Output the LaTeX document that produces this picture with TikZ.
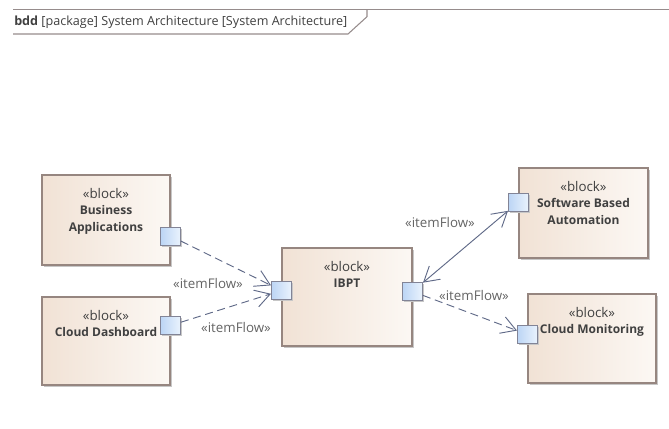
\documentclass[tikz,border=0pt]{standalone}
\usepackage{fontspec}
\setmainfont{Open Sans}
\usetikzlibrary{arrows.meta,positioning,calc,shadows}
\definecolor{clrFrame}{RGB}{150,140,140}
\definecolor{clrTxt}{RGB}{64,64,64}
\definecolor{clrLbl}{RGB}{100,100,100}
\definecolor{clrBlkA}{RGB}{241,226,213}
\definecolor{clrBlkB}{RGB}{252,248,244}
\definecolor{clrBlkD}{RGB}{150,134,128}
\definecolor{clrPortA}{RGB}{188,213,245}
\definecolor{clrPortB}{RGB}{234,243,253}
\definecolor{clrPortD}{RGB}{130,132,150}
\definecolor{clrFlow}{RGB}{95,105,135}
\newcommand{\blk}{{\fontsize{10}{12.4}\selectfont\mdseries «block»}}
\tikzset{
  block/.style={rectangle,draw=clrBlkD,left color=clrBlkA,right color=clrBlkB,
    line width=0.8pt,inner sep=0pt,
    general shadow={fill=black!22,shadow xshift=1.6pt,shadow yshift=-1.6pt}},
  blocktitle/.style={align=center,font=\fontsize{9}{12.4}\selectfont\bfseries,
    text=clrTxt,inner sep=0pt},
  port/.style={rectangle,draw=clrPortD,left color=clrPortA,right color=clrPortB,
    line width=0.7pt,minimum width=15pt,minimum height=13.5pt,inner sep=0pt,
    general shadow={fill=black!22,shadow xshift=1.2pt,shadow yshift=-1.2pt}},
  flowlbl/.style={font=\fontsize{10}{12}\selectfont,text=clrLbl,inner sep=0pt},
  flow/.style={draw=clrFlow,line width=0.7pt},
  barb/.tip={Straight Barb[length=11pt,width=13pt,line width=0.7pt]},
  itemflow/.style={flow,dash pattern=on 6pt off 3.5pt,-barb}
}

\begin{document}
\begin{tikzpicture}[x=0.75pt,y=-0.75pt]
  \useasboundingbox (0,0) rectangle (669,429);

  % diagram frame header
  \draw[clrFrame,line width=0.8pt] (13,9.3) -- (669,9.3);
  \draw[clrFrame,line width=0.8pt] (13,34) -- (348,34) -- (367,16.7) -- (367,9.3);
  \node[anchor=west,inner sep=0pt,text=clrTxt,font=\fontsize{9.45}{11}\selectfont]
    (hdr) at (14,22) {\textbf{bdd} [package] System Architecture [System Architecture]};

  % blocks
  \node[block,minimum width=96pt,minimum height=67.5pt] (ba) at (106,220) {};
  \node[block,minimum width=96pt,minimum height=66pt] (cd) at (106,341) {};
  \node[block,minimum width=97.5pt,minimum height=73.5pt] (ibpt) at (347,297) {};
  \node[block,minimum width=96.75pt,minimum height=67.5pt] (sba) at (583.5,213) {};
  \node[block,minimum width=96pt,minimum height=66.75pt] (cm) at (592,338.5) {};

  \node[blocktitle,below=10pt of ba.north] (baT)
    {\blk\\Business\\Applications};
  \node[blocktitle,below=10pt of cd.north] (cdT)
    {\blk\\Cloud Dashboard};
  \node[blocktitle,below=10pt of ibpt.north] (ibptT)
    {\blk\\IBPT};
  \node[blocktitle,below=10pt of sba.north] (sbaT)
    {\blk\\Software Based\\Automation};
  \node[blocktitle,below=10pt of cm.north] (cmT)
    {\blk\\Cloud Monitoring};

  % ports
  \node[port] (baP) at ($(ba.east)+(0,16)$) {};
  \node[port] (cdP) at ($(cd.east)+(0,-15.5)$) {};
  \node[port] (ibL) at ($(ibpt.west)+(0,-6.5)$) {};
  \node[port] (ibR) at ($(ibpt.east)+(0,-5.5)$) {};
  \node[port] (sbaP) at ($(sba.west)+(0,-11)$) {};
  \node[port] (cmP) at ($(cm.west)+(0,-4)$) {};

  % item flows
  \draw[itemflow] (baP) -- (ibL);
  \draw[itemflow] (cdP) -- (ibL);
  \draw[flow,barb-barb] (ibR) -- (sbaP);
  \draw[itemflow] (ibR) -- (cmP);

  \node[flowlbl] (lblBA) at (208,283) {«itemFlow»};
  \node[flowlbl] (lblCD) at (236,327) {«itemFlow»};
  \node[flowlbl] (lblSBA) at (440,222) {«itemFlow»};
  \node[flowlbl] (lblCM) at (474,295) {«itemFlow»};
\end{tikzpicture}
\end{document}
